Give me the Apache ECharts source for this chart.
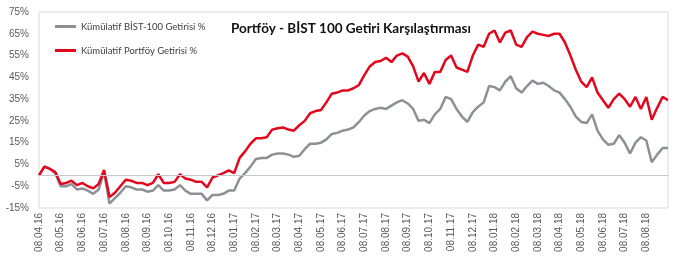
<!DOCTYPE html>
<html><head><meta charset="utf-8">
<script src="https://cdn.jsdelivr.net/npm/echarts@6/dist/echarts.min.js"></script>
<style>html,body{margin:0;padding:0;background:#fff}#c{width:680px;height:260px}</style>
</head><body><div id="c"></div>
<script>
var titleText = 'Portföy - BİST 100 Getiri Karşılaştırması';
var seriesNames = ['Kümülatif BİST-100 Getirisi %', 'Kümülatif Portföy Getirisi %'];
var monthLabels = ['04.16','05.16','06.16','07.16','08.16','09.16','10.16','11.16','12.16','01.17','02.17','03.17',
  '04.17','05.17','06.17','07.17','08.17','09.17','10.17','11.17','12.17','01.18','02.18','03.18','04.18','05.18',
  '06.18','07.18','08.18'];
var weekDays = ['08','15','22','29'];
var lastDay = '05.09.18';
var categories = [];
monthLabels.forEach(function(m){ weekDays.forEach(function(d){ categories.push(d + '.' + m); }); });
categories.push(lastDay);

var bist = [0,4,3,1, -5,-5,-4,-6.5, -6,-7,-8.5,-6.5, 1.5,-13,-10.5,-8, -5,-5.5,-6.5,-6.5, -7.5,-7,-4.5,-7,
  -7,-6.5,-4.5,-7, -8.5,-8.5,-8.5,-11.5, -9,-9,-8.5,-7, -7,-1.5,1,4, 7.5,8,8,9.5, 10,10,9.5,8.5,
  9,12,14.5,14.5, 15,16.5,19,19.5, 20.5,21,22,24.5, 27.5,29.5,30.5,31, 30.5,32,33.5,34.5, 33,30.5,25,25.5,
  24,28,30.5,36, 35,30.5,27,24.5, 29,31.5,33.5,41, 40.5,39,43,45.5, 40,38,41,43.5, 42,42.5,41,39,
  38,35,31.5,27, 24.5,24,28,20.5, 16.5,14,14.5,18.5, 15,10,15,17.5, 16,6,9.5,12.5, 12.5];
var portfolio = [0,4,3,1.5, -4,-3.5,-2.5,-4.5, -3.5,-5,-6,-4, 2.5,-10,-8,-5, -2,-2.5,-3.5,-3.5, -4.5,-3.5,0.5,-3.5,
  -3.5,-3,0.5,-1.5, -2,-3,-3,-5.5, -1,0,1,2.3, 1,8,11,14.5, 17,17,17.5,21, 21.6,22,21,20.5,
  23,25,28.5,29.5, 30,33.5,37.5,38, 39,39,40,41.5, 46,50,52,52.5, 54,52,55,56, 54.5,50,43,47,
  42,47.5,47.5,53, 55,49.5,48.5,47.5, 55,60,59,65, 66.5,61,65.5,66.5, 60,59,63.5,66, 65,64.5,64,65,
  65,61,55,48.5, 43,40.5,45,38, 34.5,31,35,37.5, 35,31.5,36,30.5, 36,25.5,31,36, 34.5];
var yTicks = {min: -15, max: 75, step: 10};

var chart = echarts.init(document.getElementById('c'), null, {renderer: 'canvas'});
chart.setOption({
  animation: false,
  backgroundColor: '#fff',
  title: {
    text: titleText, left: 226, top: 17,
    textStyle: {fontFamily: 'Lato', fontWeight: 'bold', fontSize: 13.5, color: '#111'}
  },
  legend: {
    orient: 'vertical', left: 55, top: 20, padding: 0, itemGap: 11, itemWidth: 21, itemHeight: 3,
    icon: 'rect',
    textStyle: {fontFamily: 'Lato', fontSize: 9.5, color: '#404040', lineHeight: 13},
    data: [seriesNames[0], seriesNames[1]]
  },
  grid: {left: 39, right: 12, top: 12, bottom: 52, show: true, borderColor: '#d9d9d9', borderWidth: 1, containLabel: false},
  xAxis: {
    type: 'category', data: categories, boundaryGap: false,
    axisLine: {show: false}, axisTick: {show: false}, splitLine: {show: false},
    axisLabel: {interval: function(i, v){ return v.indexOf('08.') === 0; }, rotate: 90, margin: 5,
      fontFamily: 'Liberation Sans', fontSize: 10, color: '#595959'}
  },
  yAxis: {
    type: 'value', min: yTicks.min, max: yTicks.max, interval: yTicks.step,
    axisLine: {show: false}, axisTick: {show: false}, splitLine: {show: false},
    axisLabel: {formatter: '{value}%', margin: 10, fontFamily: 'Liberation Sans', fontSize: 10, color: '#595959'}
  },
  series: [
    {name: seriesNames[0], type: 'line', data: bist, symbol: 'none', showSymbol: false,
     lineStyle: {color: '#8c9196', width: 2.5}, itemStyle: {color: '#8c9196'},
     markLine: {silent: true, symbol: 'none', label: {show: false}, lineStyle: {color: '#c8c8c8', width: 1, type: 'solid'},
       data: [{yAxis: 0}], animation: false}},
    {name: seriesNames[1], type: 'line', data: portfolio, symbol: 'none', showSymbol: false,
     lineStyle: {color: '#e3061c', width: 2.5}, itemStyle: {color: '#e3061c'}}
  ]
});
</script></body></html>
